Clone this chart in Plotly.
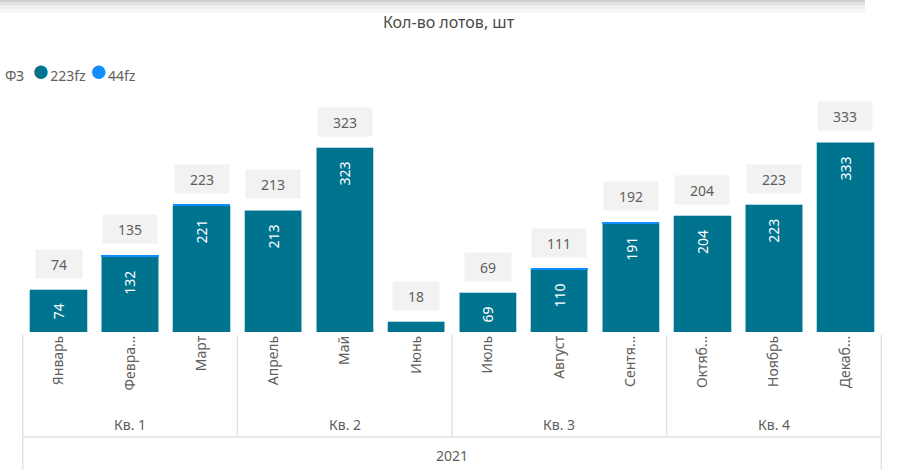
import plotly.graph_objects as go

months = ['Январь', 'Февраль', 'Март', 'Апрель', 'Май', 'Июнь',
          'Июль', 'Август', 'Сентябрь', 'Октябрь', 'Ноябрь', 'Декабрь']
month_ticks = ['Январь', 'Февра...', 'Март', 'Апрель', 'Май', 'Июнь',
               'Июль', 'Август', 'Сентя...', 'Октяб...', 'Ноябрь', 'Декаб...']
quarters = ['Кв. 1', 'Кв. 2', 'Кв. 3', 'Кв. 4']
year = '2021'
fz223 = [74, 132, 221, 213, 323, 18, 69, 110, 191, 204, 223, 333]
fz44 = [0, 3, 2, 0, 0, 0, 0, 1, 1, 0, 0, 0]

TEAL = '#00738F'
BLUE = '#118DFF'
GRAY = '#605E5C'
LINE = '#E3E3E3'
FONT = 'Noto Sans'

totals = [a + b for a, b in zip(fz223, fz44)]

fig = go.Figure()
fig.add_trace(go.Bar(x=months, y=fz223, name='223fz', marker_color=TEAL,
                     marker_line=dict(color='#9fd0df', width=0.8)))
fig.add_trace(go.Bar(x=months, y=fz44, name='44fz', marker_color=BLUE,
                     marker_line_width=0))

annotations = []
for m, v, t in zip(months, fz223, totals):
    # total label in grey box above bar
    annotations.append(dict(x=m, y=t, xref='x', yref='y', text=str(t), showarrow=False,
                            yanchor='bottom', yshift=11, width=len(str(t)) * 8 + 30,
                            height=28, bgcolor='#F2F2F2', borderpad=0,
                            font=dict(size=14, color=GRAY, family=FONT)))
    # value label inside bar
    if v >= 30:
        annotations.append(dict(x=m, y=v, xref='x', yref='y', text=str(v), showarrow=False,
                                textangle=-90, yanchor='top', yshift=-12,
                                font=dict(size=14, color='white', family=FONT)))

shapes = []
PX_TOP = 95
PLOT_H = 237


def py(p):
    return (332 - p) / PLOT_H


def px(p):
    return (p - 22) / 860


# legend drawn as text with round markers
legend_text = ('ФЗ  <span style="color:%s;font-size:31px">●</span>223fz '
               '<span style="color:%s;font-size:31px">●</span>44fz') % (TEAL, BLUE)
annotations.append(dict(x=px(3), y=py(69), xref='paper', yref='paper', text=legend_text,
                        showarrow=False, xanchor='left', yanchor='middle',
                        font=dict(size=14, color=GRAY, family=FONT)))

n_per_q = len(months) // len(quarters)
for qi, q in enumerate(quarters):
    annotations.append(dict(x=qi * n_per_q + (n_per_q - 1) / 2, y=py(424), xref='x', yref='paper',
                            text=q, showarrow=False, yanchor='middle',
                            font=dict(size=14, color=GRAY, family=FONT)))
    if qi > 0:
        xb = qi * n_per_q - 0.5
        shapes.append(dict(type='line', xref='x', yref='paper', x0=xb, x1=xb,
                           y0=py(335), y1=py(437), line=dict(color=LINE, width=1.5)))
annotations.append(dict(x=(len(months) - 1) / 2, y=py(455), xref='x', yref='paper',
                        text=year, showarrow=False, yanchor='middle',
                        font=dict(size=14, color=GRAY, family=FONT)))
for xb in [-0.5, len(months) - 0.5]:
    shapes.append(dict(type='line', xref='x', yref='paper', x0=xb, x1=xb,
                       y0=py(335), y1=py(470), line=dict(color=LINE, width=1.5)))
shapes.append(dict(type='line', xref='x', yref='paper', x0=-0.5, x1=len(months) - 0.5,
                   y0=py(437), y1=py(437), line=dict(color=LINE, width=1.5)))

# top shadow
for y0, y1, c in [(0, 2, '#d0d0d0'), (2, 5, '#e2e2e2'), (5, 9, '#eeeeee'), (9, 13, '#f7f7f7')]:
    shapes.append(dict(type='rect', xref='paper', yref='paper', x0=px(0), x1=px(865),
                       y0=py(y1), y1=py(y0), line_width=0, fillcolor=c, layer='below'))

fig.update_layout(
    width=897, height=476,
    margin=dict(l=22, r=15, t=PX_TOP, b=144, autoexpand=False),
    barmode='stack', bargap=0.2,
    showlegend=False,
    plot_bgcolor='white', paper_bgcolor='white',
    font=dict(family=FONT, color=GRAY),
    title=dict(text='Кол-во лотов, шт', x=0.5, xanchor='center', y=1 - 22 / 476, yanchor='middle',
               font=dict(size=16, color='#4a4a4a', family=FONT)),
    xaxis=dict(tickmode='array', tickvals=months, ticktext=month_ticks, tickangle=-90,
               tickfont=dict(size=14, color=GRAY), showgrid=False, showline=False,
               ticks='', zeroline=False),
    yaxis=dict(range=[0, PLOT_H / (190 / 333)], visible=False, showgrid=False),
    annotations=annotations,
    shapes=shapes,
)

fig.write_html('out.html', config={'displayModeBar': False},
               post_script="document.body.style.margin='0';")
